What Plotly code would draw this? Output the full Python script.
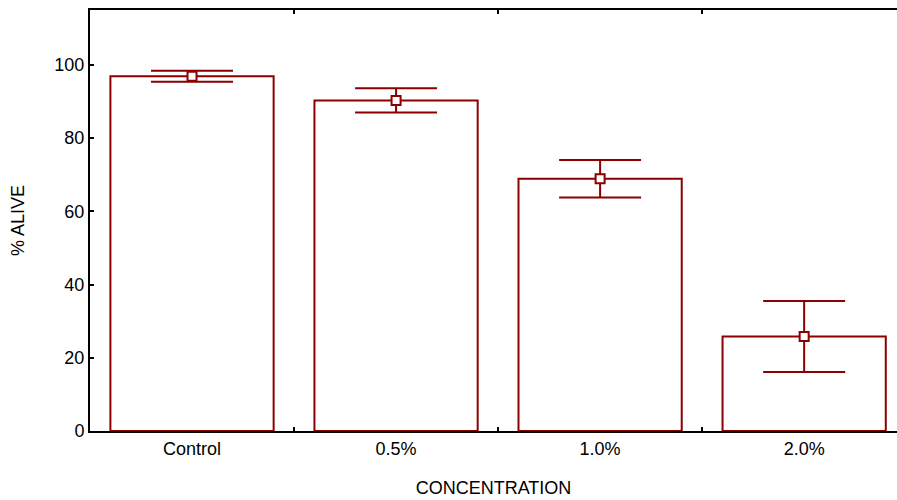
import plotly.graph_objects as go

# Survival by concentration: mean % alive with error bars
categories = ["Control", "0.5%", "1.0%", "2.0%"]
mean_alive = [96.9, 90.3, 68.9, 25.8]
error_half = [1.5, 3.3, 5.1, 9.7]

dark_red = "#8B0000"
font_family = "Liberation Sans, Arial, sans-serif"

fig = go.Figure()

fig.add_trace(go.Bar(
    x=categories,
    y=mean_alive,
    width=0.8,
    marker=dict(color="white", line=dict(color=dark_red, width=2)),
    showlegend=False,
    hoverinfo="skip",
))

fig.add_trace(go.Scatter(
    x=categories,
    y=mean_alive,
    mode="markers",
    marker=dict(symbol="square", size=9, color="white",
                line=dict(color=dark_red, width=2)),
    error_y=dict(type="data", array=error_half, visible=True,
                 color=dark_red, thickness=2, width=41),
    showlegend=False,
))

axis_common = dict(
    showline=True, linecolor="black", linewidth=2,
    ticks="inside", ticklen=4, tickwidth=1.5, tickcolor="black",
    showgrid=False, zeroline=False,
    tickfont=dict(family=font_family, size=18, color="black"),
)

fig.update_layout(
    width=897, height=500,
    margin=dict(l=90, r=0, t=10, b=69, autoexpand=False),
    plot_bgcolor="white", paper_bgcolor="white",
    bargap=0.2,
    font=dict(family=font_family, size=18, color="black"),
    xaxis=dict(
        **axis_common,
        mirror="ticks",
        tickson="boundaries",
        range=[-0.5, 3.455],
        automargin=False,
        title=dict(text="CONCENTRATION", standoff=24,
                   font=dict(family=font_family, size=18, color="black")),
    ),
    yaxis=dict(
        **axis_common,
        mirror=False,
        automargin=False,
        range=[0, 115],
        tickvals=[0, 20, 40, 60, 80, 100],
        title=dict(text="% ALIVE", standoff=25,
                   font=dict(family=font_family, size=18, color="black")),
    ),
)

fig.write_html("out.html")
